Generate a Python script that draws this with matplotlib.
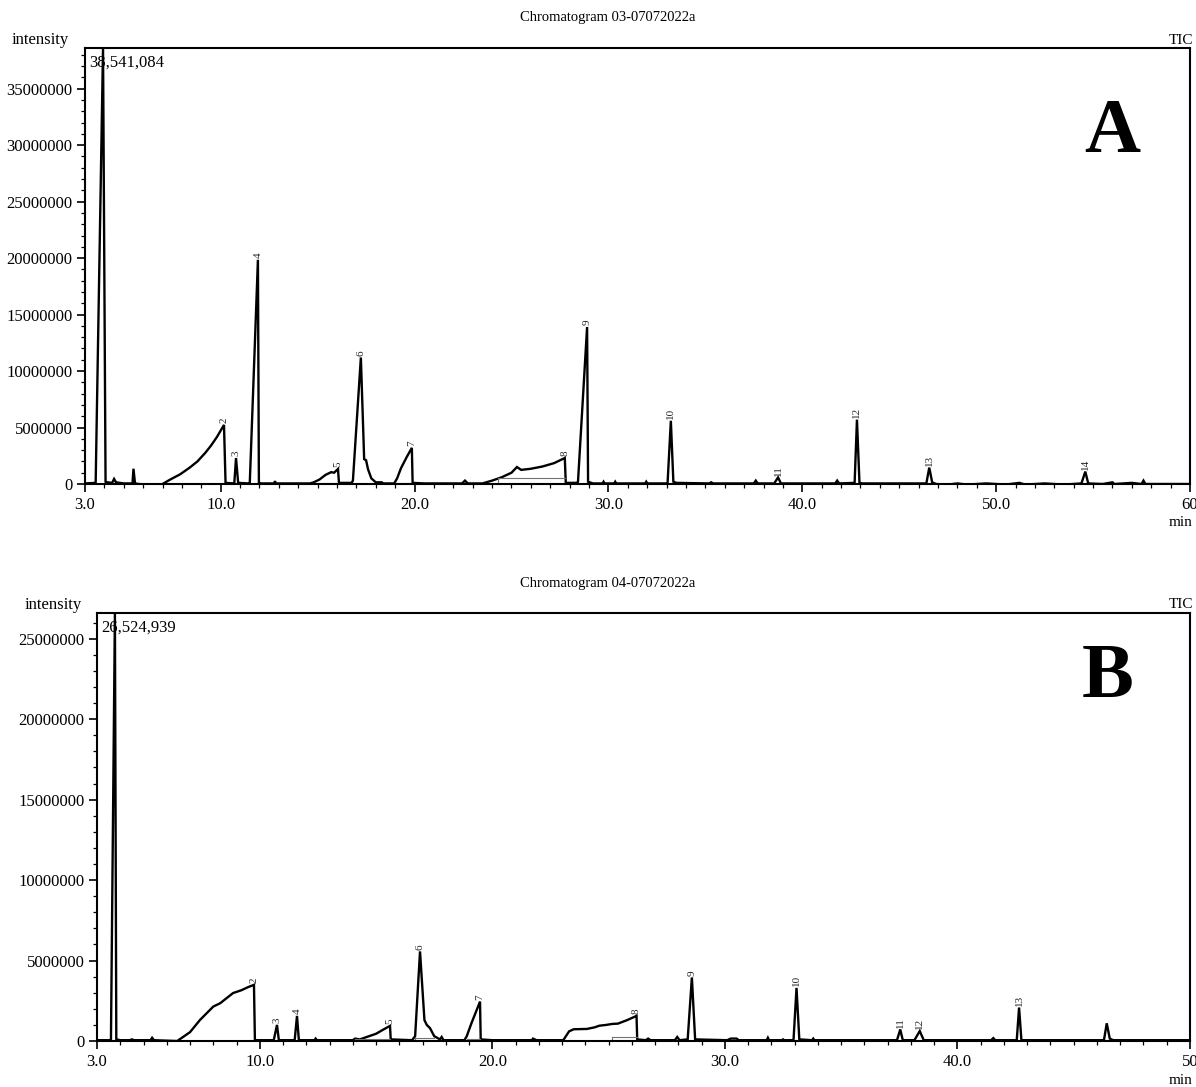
import matplotlib.pyplot as plt
from matplotlib.ticker import MultipleLocator, FixedLocator

plt.rcParams['font.family'] = ['Liberation Serif', 'DejaVu Serif']

# ---- Chromatogram 03 (panel A): retention time (min) / intensity (millions)
a_time = [3.0, 3.5, 3.55, 3.93, 4.06, 4.15, 4.4, 4.5, 4.6, 5.0, 5.45, 5.5, 5.58,
          6.0, 6.85, 7.0, 7.4, 7.9, 8.4, 8.8, 9.2, 9.5, 9.8, 10.17, 10.25,
          10.7, 10.79, 10.9, 11.45, 11.5, 11.92, 11.97, 12.1, 12.75, 12.8, 12.85,
          14.6, 14.8, 15.1, 15.4, 15.7, 15.85, 16.05, 16.1, 16.75,
          16.82, 17.23, 17.4, 17.5, 17.6, 17.77, 18.0, 18.3, 18.4,
          18.95, 19.1, 19.3, 19.6, 19.86, 19.9, 20.5, 22.45, 22.6, 22.75, 23.5,
          24.0, 24.5, 25.0, 25.28, 25.5, 26.0, 26.6, 27.2, 27.75, 27.8, 28.4,
          28.43, 28.9, 28.95, 29.2, 29.7, 29.75, 29.8, 30.3, 30.35, 30.4,
          31.9, 31.95, 32.0, 33.05, 33.22, 33.35, 33.5, 35.2, 35.3, 35.4,
          37.5, 37.6, 37.7, 38.55, 38.75, 38.9, 41.7, 41.8, 41.9,
          42.7, 42.82, 42.95, 43.1, 46.4, 46.55, 46.7, 46.9, 47.5, 48.0, 48.5,
          49.5, 50.5, 51.2, 51.5, 52.5, 53.5, 54.4, 54.6, 54.75, 55.5, 56.0,
          56.1, 57.0, 57.5, 57.6, 57.7, 60.0]
a_int = [0.05, 0.1, 0.1, 38.6, 0.2, 0.15, 0.1, 0.45, 0.15, 0.05, 0.05, 1.35, 0.05,
         -0.05, -0.1, 0.0, 0.4, 0.85, 1.45, 2.0, 2.75, 3.4, 4.15, 5.23, 0.1,
         0.05, 2.3, 0.1, 0.05, 0.1, 19.85, 0.1, 0.05, 0.05, 0.25, 0.05,
         0.05, 0.15, 0.4, 0.8, 1.05, 1.0, 1.33, 0.1, 0.1,
         0.3, 11.2, 2.2, 2.1, 1.3, 0.5, 0.15, 0.15, 0.05,
         0.05, 0.5, 1.4, 2.4, 3.2, 0.1, 0.05, 0.05, 0.3, 0.05, 0.05,
         0.3, 0.6, 1.0, 1.5, 1.25, 1.35, 1.55, 1.85, 2.3, 0.1, 0.1,
         0.2, 13.9, 0.2, 0.05, 0.05, 0.2, 0.05, 0.05, 0.2, 0.05,
         0.05, 0.2, 0.05, 0.05, 5.6, 0.2, 0.1, 0.05, 0.15, 0.05,
         0.05, 0.3, 0.05, 0.05, 0.58, 0.05, 0.05, 0.3, 0.05,
         0.1, 5.7, 0.1, 0.05, 0.05, 1.45, 0.15, 0.0, -0.05, 0.05, -0.05,
         0.05, -0.05, 0.1, -0.05, 0.05, -0.05, 0.05, 1.1, 0.05, 0.0, 0.15,
         0.0, 0.1, 0.0, 0.3, 0.0, 0.0]
a_peak_ids = ['2', '3', '4', '5', '6', '7', '8', '9', '10', '11', '12', '13', '14']
a_peak_time = [10.17, 10.79, 11.92, 16.05, 17.23, 19.86, 27.75, 28.9, 33.22,
               38.75, 42.82, 46.55, 54.6]
a_peak_int = [5.23, 2.3, 19.85, 1.33, 11.2, 3.2, 2.3, 13.9, 5.6, 0.58, 5.7, 1.45, 1.1]
# integration baselines (start time, end time, level)
a_base = [(24.3, 27.75, 0.5), (14.7, 16.05, 0.1), (18.95, 19.86, 0.05)]

# ---- Chromatogram 04 (panel B)
b_time = [3.0, 3.55, 3.6, 3.77, 3.83, 4.0, 4.4, 4.5, 4.6, 5.3, 5.37, 5.45, 6.45,
          6.5, 7.0, 7.43, 8.0, 8.3, 8.85, 9.2, 9.5, 9.75, 9.79, 10.6, 10.74,
          10.82, 11.5, 11.6, 11.68, 12.35, 12.4, 12.45, 14.0, 14.1, 14.3,
          14.6, 15.0, 15.3, 15.6, 15.63, 16.55, 16.68, 16.89, 17.08, 17.18,
          17.32, 17.5, 17.75, 17.82, 17.9, 18.8, 18.9, 19.1, 19.47, 19.5, 20.0,
          21.7, 21.75, 21.9, 23.05, 23.3, 23.5, 24.07, 24.4, 24.6, 24.9, 25.15,
          25.4, 25.8, 26.2, 26.23, 26.6, 26.7, 26.8, 27.85, 27.95, 28.05, 28.4,
          28.58, 28.72, 30.1, 30.25, 30.5, 30.6, 31.8, 31.85, 31.9, 32.45, 32.5,
          32.55, 32.95, 33.08, 33.2, 33.75, 33.8, 33.85, 37.4, 37.54, 37.65,
          38.15, 38.38, 38.55, 41.45, 41.54, 41.63, 42.55, 42.65, 42.75, 46.3,
          46.42, 46.55, 46.7, 50.0]
b_int = [0.05, 0.05, 0.1, 26.6, 0.1, 0.05, 0.05, 0.1, 0.05, 0.05, 0.2, 0.05, 0.0,
         0.05, 0.55, 1.31, 2.14, 2.35, 2.98, 3.15, 3.35, 3.49, 0.05, 0.05, 1.0,
         0.05, 0.05, 1.56, 0.05, 0.05, 0.15, 0.05, 0.05, 0.15, 0.1,
         0.25, 0.45, 0.7, 0.94, 0.1, 0.05, 0.3, 5.57, 1.3, 1.0,
         0.8, 0.3, 0.1, 0.25, 0.05, 0.05, 0.3, 1.1, 2.45, 0.1, 0.05,
         0.05, 0.15, 0.05, 0.05, 0.6, 0.73, 0.75, 0.85, 0.95, 1.0, 1.06,
         1.08, 1.3, 1.56, 0.1, 0.05, 0.15, 0.05, 0.05, 0.25, 0.05, 0.1,
         3.95, 0.1, 0.05, 0.15, 0.15, 0.05, 0.05, 0.2, 0.05, 0.05, 0.1,
         0.05, 0.05, 3.3, 0.1, 0.05, 0.15, 0.05, 0.05, 0.72, 0.05,
         0.05, 0.62, 0.05, 0.05, 0.18, 0.05, 0.05, 2.08, 0.05, 0.05,
         1.1, 0.15, 0.05, 0.05]
b_peak_ids = ['2', '3', '4', '5', '6', '7', '8', '9', '10', '11', '12', '13']
b_peak_time = [9.75, 10.74, 11.6, 15.6, 16.89, 19.47, 26.2, 28.58, 33.08, 37.54,
               38.38, 42.65]
b_peak_int = [3.49, 1.0, 1.56, 0.94, 5.57, 2.45, 1.56, 3.95, 3.3, 0.72, 0.62, 2.08]
b_base = [(25.15, 26.2, 0.25), (14.1, 15.6, 0.15), (16.68, 17.5, 0.2), (18.9, 19.47, 0.1)]

W, H = 1196, 1087
fig = plt.figure(figsize=(W / 100, H / 100), dpi=100)


def px(x, y):
    return x / W, 1 - y / H


def panel(rect, time, inten, ids, ptime, pint, base, xmax, ymax, yticks,
          title, top_text, letter, letter_pos, left_px, top_px, bottom_px):
    ax = fig.add_axes(rect)
    ax.plot(time, [v * 1e6 for v in inten], color='black', lw=1.7,
            solid_joinstyle='miter')
    for t0, t1, lev in base:
        ax.plot([t0, t1], [lev * 1e6, lev * 1e6], color='0.45', lw=0.8)
        ax.plot([t0, t0], [0, lev * 1e6], color='0.45', lw=0.8)
    for lab, t, v in zip(ids, ptime, pint):
        ax.text(t, v * 1e6 + ymax * 0.004, lab, rotation=90, ha='center',
                va='bottom', fontsize=8, color='0.15')
    ax.set_xlim(3, xmax)
    ax.set_ylim(0, ymax)
    xt = [3] + list(range(10, xmax + 1, 10))
    ax.xaxis.set_major_locator(FixedLocator(xt))
    ax.set_xticklabels(['%.1f' % v if v < xmax else '%d' % v for v in xt])
    ax.xaxis.set_minor_locator(MultipleLocator(1))
    ax.yaxis.set_major_locator(FixedLocator(yticks))
    ax.set_yticklabels(['%d' % v for v in yticks])
    ax.yaxis.set_minor_locator(MultipleLocator(1e6))
    ax.tick_params(which='major', length=6, width=1.2, labelsize=12, pad=3)
    ax.tick_params(which='minor', length=3, width=0.9)
    for s in ax.spines.values():
        s.set_linewidth(1.5)
    ax.text(0.004, 0.985, top_text, transform=ax.transAxes, ha='left', va='top',
            fontsize=12)
    ax.text(letter_pos[0], letter_pos[1], letter, transform=ax.transAxes,
            ha='right', va='center', fontsize=56, fontweight='bold')
    fig.text(*px(608, top_px - 30), title, ha='center', va='center', fontsize=10.5)
    fig.text(*px(left_px, top_px - 8), 'intensity', ha='left', va='center',
             fontsize=12)
    fig.text(*px(1193, top_px - 8), 'TIC', ha='right', va='center', fontsize=11)
    fig.text(*px(1193, bottom_px + 39), 'min', ha='right', va='center', fontsize=11)
    return ax


panel([85 / W, 1 - 484 / H, 1105 / W, 436 / H], a_time, a_int, a_peak_ids,
      a_peak_time, a_peak_int, a_base, 60, 38.6e6,
      [0, 5000000, 10000000, 15000000, 20000000, 25000000, 30000000, 35000000],
      'Chromatogram 03-07072022a', '38,541,084', 'A', (0.955, 0.804), 12, 48, 484)

panel([97 / W, 1 - 1041 / H, 1093 / W, 428 / H], b_time, b_int, b_peak_ids,
      b_peak_time, b_peak_int, b_base, 50, 26.6e6,
      [0, 5000000, 10000000, 15000000, 20000000, 25000000],
      'Chromatogram 04-07072022a', '26,524,939', 'B', (0.948, 0.847), 25, 613, 1041)

fig.savefig('out.png', dpi=100)
